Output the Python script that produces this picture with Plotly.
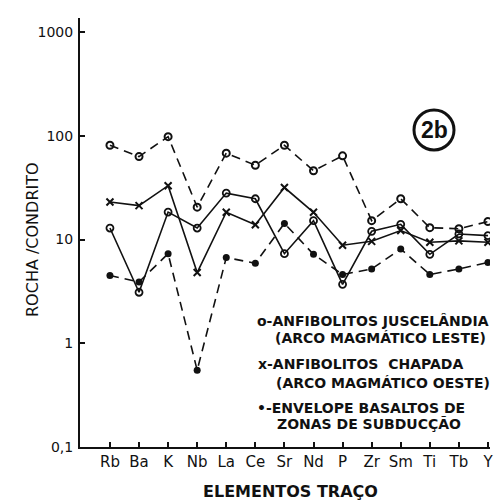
import plotly.graph_objects as go

elements = ["Rb", "Ba", "K", "Nb", "La", "Ce", "Sr", "Nd", "P", "Zr", "Sm", "Ti", "Tb", "Y"]

envelope_upper = [81, 63, 98, 20.5, 68, 52, 81, 46, 64, 15.2, 24.7, 13, 12.7, 14.9]
juscelandia = [12.9, 3.1, 18.4, 12.9, 28, 24.7, 7.3, 15.2, 3.7, 12, 14, 7.2, 11.3, 10.9]
chapada = [23, 21.2, 33, 4.8, 18.3, 13.9, 31.7, 18.3, 8.8, 9.6, 12.2, 9.4, 9.7, 9.4]
envelope_lower = [4.5, 3.9, 7.3, 0.55, 6.7, 5.9, 14.3, 7.2, 4.6, 5.2, 8.1, 4.6, 5.2, 6.0]

y_tickvals = [0.1, 1, 10, 100, 1000]
y_ticktext = ["0,1", "1", "10", "100", "1000"]

FONT = "Liberation Sans, Arial, sans-serif"
WIDE = "DejaVu Sans, Verdana, sans-serif"
INK = "#111111"

fig = go.Figure()

fig.add_trace(go.Scatter(
    x=elements, y=envelope_upper, mode="lines+markers",
    line=dict(color=INK, width=1.6, dash="9px,6px"),
    marker=dict(symbol="circle-open", size=7, color=INK, line=dict(width=2)),
    showlegend=False))
fig.add_trace(go.Scatter(
    x=elements, y=juscelandia, mode="lines+markers",
    line=dict(color=INK, width=1.6),
    marker=dict(symbol="circle-open", size=7, color=INK, line=dict(width=1.8)),
    showlegend=False))
fig.add_trace(go.Scatter(
    x=elements, y=chapada, mode="lines+markers",
    line=dict(color=INK, width=1.6),
    marker=dict(symbol="x-thin-open", size=7, color=INK, line=dict(width=2, color=INK)),
    showlegend=False))
fig.add_trace(go.Scatter(
    x=elements, y=envelope_lower, mode="lines+markers",
    line=dict(color=INK, width=1.6, dash="9px,6px"),
    marker=dict(symbol="circle", size=7, color=INK),
    showlegend=False))

L, R, T, B = 80, 8, 18, 57
W, H = 498, 504
pw, ph = W - L - R, H - T - B

def px(x):
    return (x - L) / pw

def py(y):
    return (H - B - y) / ph

annotations = []
legend_lines = [
    ("o-ANFIBOLITOS JUSCELÂNDIA", 255, 321),
    ("(ARCO MAGMÁTICO LESTE)", 273, 338),
    ("x-ANFIBOLITOS  CHAPADA", 256, 364),
    ("(ARCO MAGMÁTICO OESTE)", 274, 383),
    ("•-ENVELOPE BASALTOS DE", 255, 408),
    ("ZONAS DE SUBDUCÇÃO", 275, 424),
]
for txt, x, y in legend_lines:
    annotations.append(dict(
        text="<b>" + txt + "</b>", x=px(x), y=py(y), xref="paper", yref="paper",
        xanchor="left", yanchor="middle", showarrow=False,
        font=dict(family=WIDE, size=14, color=INK)))

annotations.append(dict(
    text="<b>2b</b>", x=px(434), y=py(130), xref="paper", yref="paper",
    xanchor="center", yanchor="middle", showarrow=False,
    font=dict(family=FONT, size=23, color=INK)))

annotations.append(dict(
    text="<b>ELEMENTOS TRAÇO</b>", x=px(290), y=py(491), xref="paper", yref="paper",
    xanchor="center", yanchor="middle", showarrow=False,
    font=dict(family=WIDE, size=16, color=INK)))

annotations.append(dict(
    text="ROCHA /CONDRITO", x=px(32), y=py(240), xref="paper", yref="paper",
    xanchor="center", yanchor="middle", showarrow=False, textangle=-90,
    font=dict(family=WIDE, size=16, color=INK)))

shapes = [dict(
    type="circle", xref="paper", yref="paper",
    x0=px(434 - 20), x1=px(434 + 20), y0=py(130 + 20), y1=py(130 - 20),
    line=dict(color=INK, width=3))]

fig.update_layout(
    width=W, height=H,
    margin=dict(l=L, r=R, t=T, b=B, autoexpand=False),
    paper_bgcolor="white", plot_bgcolor="white",
    font=dict(family=FONT, color=INK),
    annotations=annotations, shapes=shapes,
    showlegend=False,
)

fig.update_xaxes(
    type="category", range=[-1.03, 13.07], automargin=False,
    showgrid=False, zeroline=False,
    showline=True, linecolor=INK, linewidth=2,
    ticks="inside", ticklen=5, tickwidth=1.5, tickcolor=INK,
    tickfont=dict(family=WIDE, size=15, color=INK),
)
fig.update_yaxes(
    type="log", range=[-1, 3.135], automargin=False,
    tickvals=y_tickvals, ticktext=y_ticktext,
    showgrid=False, zeroline=False,
    showline=True, linecolor=INK, linewidth=2,
    ticks="inside", ticklen=5, tickwidth=1.5, tickcolor=INK,
    tickfont=dict(family=WIDE, size=14, color=INK),
    ticklabelstandoff=2,
)

fig.write_html("out.html", config={"displayModeBar": False},
               post_script="document.body.style.margin='0';")
